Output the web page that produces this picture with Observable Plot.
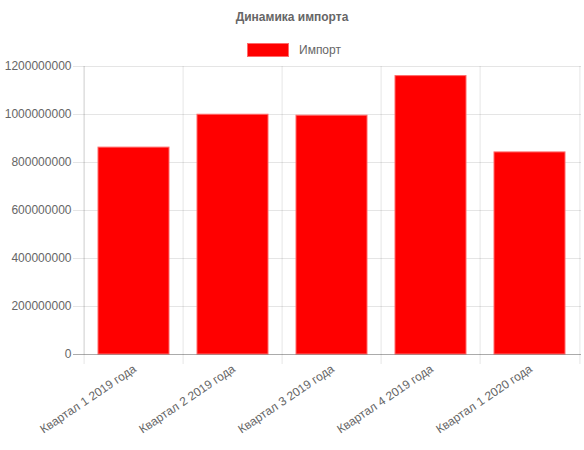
<!DOCTYPE html>
<html><head><meta charset="utf-8">
<script src="https://cdn.jsdelivr.net/npm/d3@7"></script>
<script src="https://cdn.jsdelivr.net/npm/@observablehq/plot@0.6"></script>
<style>
body{margin:0;background:#fff;font-family:"Liberation Sans",Arial,sans-serif;}
#wrap{position:relative;width:584px;height:450px;overflow:hidden;}
#title{position:absolute;left:0;top:11px;width:584px;text-align:center;font-weight:bold;font-size:12px;line-height:12px;color:#666;}
#lbox{position:absolute;left:247px;top:43px;width:40px;height:12px;background:#ff0000;border:1px solid #ff6b6b;}
#ltext{position:absolute;left:299px;top:44px;font-size:12px;line-height:12px;color:#666;}
#chart{position:absolute;left:0;top:56px;}
</style>
</head><body>
<div id="wrap">
  <div id="title">Динамика импорта</div>
  <div id="lbox"></div><div id="ltext">Импорт</div>
  <div id="chart"></div>
</div>
<script>
const categories = ["Квартал 1 2019 года","Квартал 2 2019 года","Квартал 3 2019 года","Квартал 4 2019 года","Квартал 1 2020 года"];
const values = [862000000, 999000000, 995000000, 1160000000, 842000000];
const yTicks = [0, 200000000, 400000000, 600000000, 800000000, 1000000000, 1200000000];

const data = categories.map((c, i) => ({cat: c, value: values[i]}));

const W = 584, H = 394, mL = 82, mR = 3, mT = 10, mB = 96;
const pi = 0.28, po = 0.14;
const step = (W - mL - mR) / (categories.length - pi + 2 * po);
const grid = "rgba(0,0,0,0.1)";

const chart = Plot.plot({
  width: W, height: H,
  marginLeft: mL, marginRight: mR, marginTop: mT, marginBottom: mB,
  style: {fontFamily: "'Liberation Sans', Arial, sans-serif", fontSize: "12px", color: "#666", background: "transparent"},
  x: {domain: categories, paddingInner: pi, paddingOuter: po, axis: null},
  y: {domain: [0, 1200000000], axis: null, label: null},
  marks: [
    Plot.ruleY(yTicks, {y: d => d, stroke: grid, insetLeft: -9}),
    Plot.ruleX(categories, {x: d => d, dx: -step / 2, stroke: grid, insetBottom: -10}),
    Plot.ruleX([categories[categories.length - 1]], {x: d => d, dx: step / 2, stroke: grid, insetBottom: -10}),
    Plot.ruleX([categories[0]], {x: d => d, dx: -step / 2, stroke: grid}),
    Plot.barY(data, {x: "cat", y: "value", fill: "#ff0000", stroke: "#ff6b6b", strokeWidth: 1}),
    Plot.ruleY([0], {y: d => d, stroke: "rgba(0,0,0,0.25)", insetLeft: -9}),
    Plot.axisY(yTicks, {tickSize: 0, tickPadding: 11, tickFormat: d => String(d), fill: "#666", fontSize: 12, label: null}),
    Plot.text(categories, {x: d => d, frameAnchor: "bottom", dy: 13, dx: 1, rotate: -34, textAnchor: "end", lineAnchor: "middle", fill: "#666", fontSize: 12})
  ]
});
document.getElementById("chart").appendChild(chart);
</script>
</body></html>
